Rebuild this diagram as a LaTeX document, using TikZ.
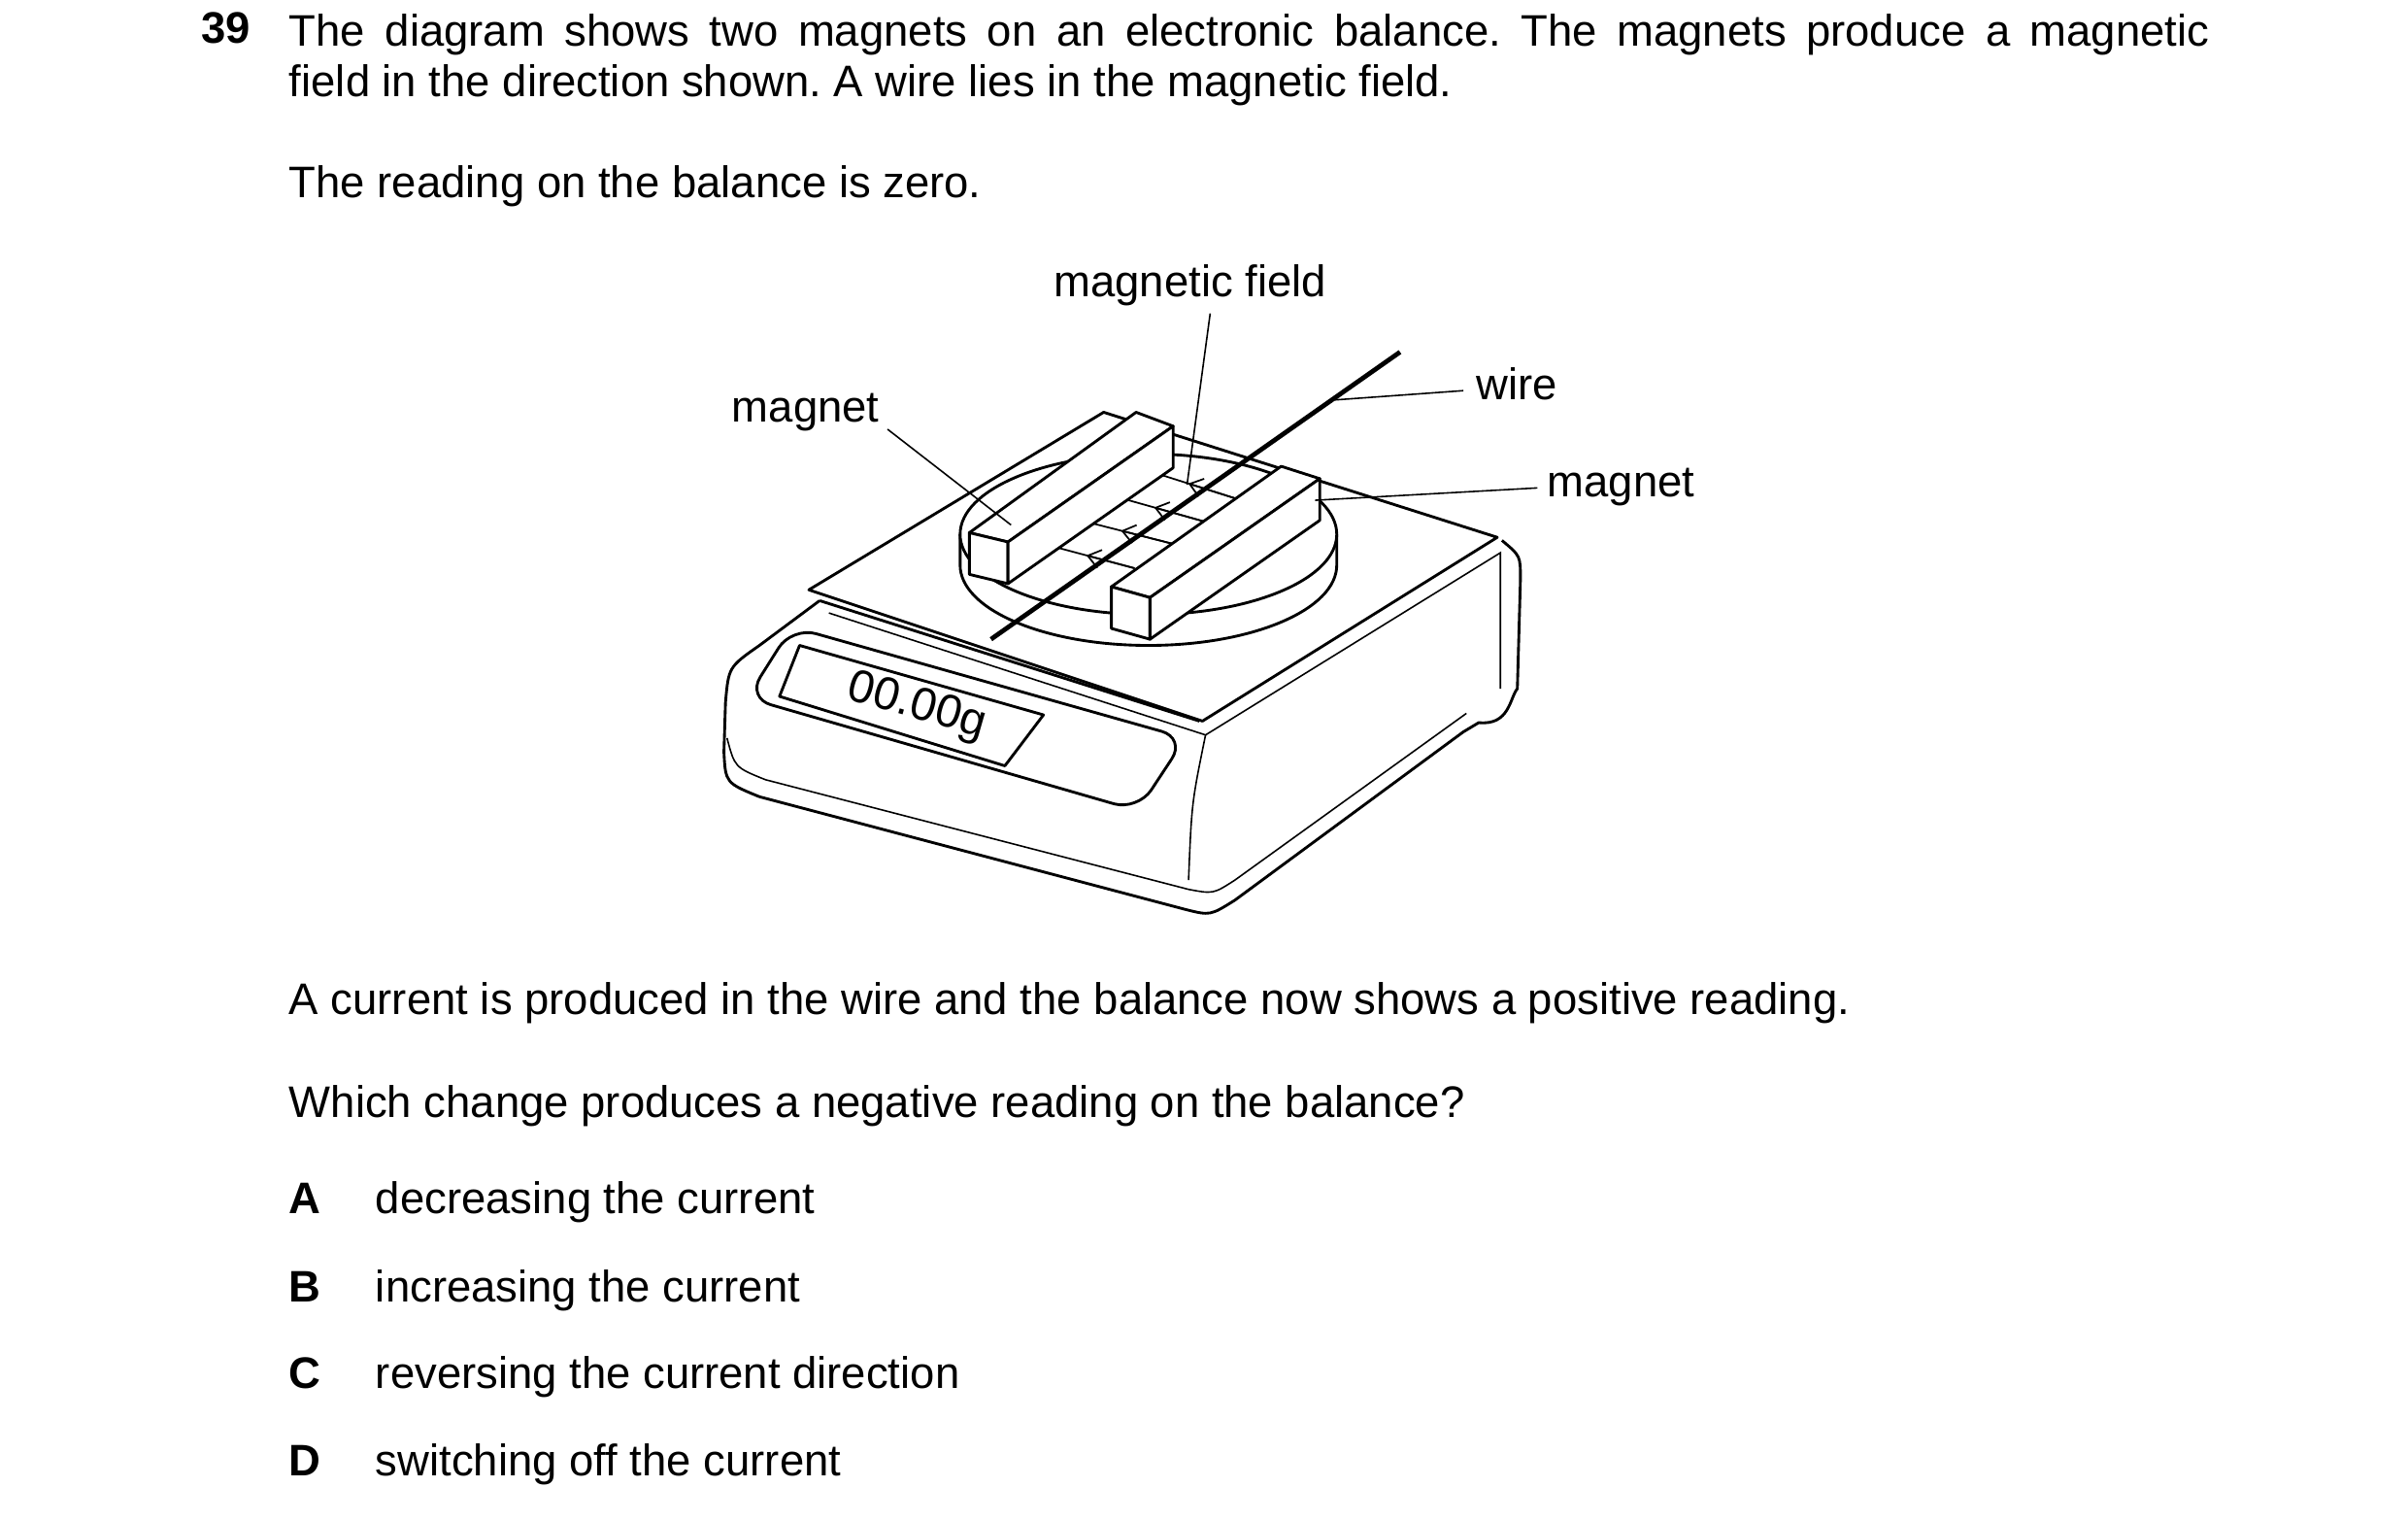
\documentclass[tikz,border=0pt]{standalone}
\usepackage{fontspec}
\setmainfont{Liberation Sans}
\usetikzlibrary{arrows.meta,calc}
\begin{document}
\frenchspacing
\begin{tikzpicture}[x=0.5pt,y=-0.5pt,
  txt/.style={anchor=base west,inner sep=0pt,font=\fontsize{14.3}{16.5}\selectfont},
  lbl/.style={inner sep=0pt,font=\fontsize{14.3}{16.5}\selectfont},
  outl/.style={line width=0.9pt,line join=round},
  thin/.style={line width=0.5pt},
  lead/.style={line width=0.5pt},
  fld/.style={line width=0.55pt},
  face/.style={outl,fill=white}]
\useasboundingbox (0,0) rectangle (1560,984.5);
% question text
\node[txt,font=\fontsize{14.3}{16.5}\selectfont\bfseries] (q) at (130,28) {39};
\node[anchor=north west,inner sep=0pt,text width=622pt,align=justify,font=\fontsize{14.3}{16.5}\selectfont\frenchspacing] (p1) at (187,8.5)
 {The diagram shows two magnets on an electronic balance. The magnets produce a magnetic\linebreak field in the direction shown. A wire lies in the magnetic field.};
\node[txt] (p2) at (187,128) {The reading on the balance is zero.};
\node[txt] (p3) at (187,657) {A current is produced in the wire and the balance now shows a positive reading.};
\node[txt] (p4) at (187,724) {Which change produces a negative reading on the balance?};
\foreach \l/\t/\y in {A/decreasing the current/786,B/increasing the current/843,C/reversing the current direction/899,D/switching off the current/956}{
  \node[txt,font=\fontsize{14.3}{16.5}\selectfont\bfseries] (o\l) at (187,\y) {\l};
  \node[txt] (t\l) at (243,\y) {\t};
}
% balance body
\draw[outl] (531,389) -- (492,418) .. controls (472,432) .. (470,455) -- (469,487)
  .. controls (470,507) .. (492,516) -- (768,589) .. controls (784,593) .. (800,583)
  -- (948,474) -- (958,468) .. controls (978,470) and (978,452) .. (983,446)
  -- (985,375) .. controls (985,360) .. (973,350);
\draw[thin] (471,478) .. controls (476,497) .. (496,505) -- (770,576) .. controls (786,579) .. (800,570) -- (950,462);
\draw[outl] (531,389) -- (777,467);
\draw[thin] (537,397) -- (781,476) -- (972,358) -- (972,446);
\draw[thin] (781,476) .. controls (772,520) .. (770,570);
\draw[outl,rounded corners=8pt] (513,406) -- (768,478) -- (737,525) -- (484,452) -- cycle;
\draw[outl] (518,418) -- (676,463) -- (651,496) -- (505,451) -- cycle;
\node[rotate=-16,inner sep=0pt,font=\fontsize{15}{15}\selectfont] (lcd) at (594,458) {00.00g};
% platform sheet
\coordinate (sL) at (524,382); \coordinate (sT) at (715,267);
\coordinate (sR) at (970,348); \coordinate (sB) at (779,467);
\draw[face] (sL) -- (sT) -- (sR) -- (sB) -- cycle;
% pan
\draw[face] (622,346) -- (622,366) arc[start angle=180,end angle=0,x radius=122,y radius=52] -- (866,346);
\draw[face] (744,346) ellipse[x radius=122,y radius=52];
% field lines
\coordinate (fs1) at (801,323); \coordinate (fe1) at (741,304);
\coordinate (fs2) at (781,338); \coordinate (fe2) at (717,320);
\coordinate (fs3) at (759,352); \coordinate (fe3) at (696,336);
\coordinate (fs4) at (735,368); \coordinate (fe4) at (675,352);
\foreach \i in {1,2,3,4}{
  \draw[fld] (fs\i) -- (fe\i);
  \draw[fld,-{Straight Barb[length=4pt,width=6pt]}] (fs\i) -- ($(fs\i)!0.52!(fe\i)$);
}
% left magnet
\coordinate (m1a) at (628,345); \coordinate (m1b) at (653,351);
\coordinate (m1c) at (760,276); \coordinate (m1d) at (736,267);
\coordinate (m1e) at (653,378); \coordinate (m1f) at (628,372); \coordinate (m1g) at (760,303);
\draw[face] (m1a) -- (m1b) -- (m1c) -- (m1d) -- cycle;
\draw[face] (m1a) -- (m1b) -- (m1e) -- (m1f) -- cycle;
\draw[face] (m1b) -- (m1c) -- (m1g) -- (m1e) -- cycle;
% right magnet
\coordinate (m2a) at (720,380); \coordinate (m2b) at (745,387);
\coordinate (m2c) at (855,310); \coordinate (m2d) at (830,302);
\coordinate (m2e) at (745,414); \coordinate (m2f) at (720,407); \coordinate (m2g) at (855,337);
\draw[face] (m2a) -- (m2b) -- (m2c) -- (m2d) -- cycle;
\draw[face] (m2a) -- (m2b) -- (m2e) -- (m2f) -- cycle;
\draw[face] (m2b) -- (m2c) -- (m2g) -- (m2e) -- cycle;
% wire
\coordinate (w1) at (642,414); \coordinate (w2) at (907,228);
\draw[line width=1.5pt] (w1) -- (w2);
% labels and leaders
\node[lbl,anchor=base] (lf) at (771,192) {magnetic field};
\node[lbl,anchor=base west] (lw) at (956,259) {wire};
\node[lbl,anchor=base east] (lm1) at (570,273) {magnet};
\node[lbl,anchor=base west] (lm2) at (1002,322) {magnet};
\coordinate (pf) at (769,314); \coordinate (pw) at (865,259);
\coordinate (pm1) at (655,340); \coordinate (pm2) at (852,324);
\draw[lead] (784,203) -- (pf);
\draw[lead] (948,253) -- (pw);
\draw[lead] (575,278) -- (pm1);
\draw[lead] (996,316) -- (pm2);
\end{tikzpicture}
\end{document}
